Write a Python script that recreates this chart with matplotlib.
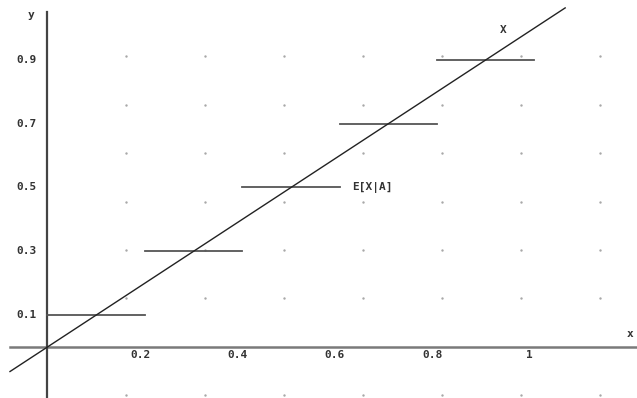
import numpy as np
import matplotlib
matplotlib.use("Agg")
import matplotlib.pyplot as plt

# data
bin_edges = [0.0, 0.2, 0.4, 0.6, 0.8, 1.0]
cond_exp = [0.1, 0.3, 0.5, 0.7, 0.9]
line_x = [-0.077, 1.063]
x_ticks = [0.2, 0.4, 0.6, 0.8, 1.0]
x_tick_labels = ["0.2", "0.4", "0.6", "0.8", "1"]
y_ticks = [0.1, 0.3, 0.5, 0.7, 0.9]
y_tick_labels = ["0.1", "0.3", "0.5", "0.7", "0.9"]

fig = plt.figure(figsize=(6.37, 3.98), dpi=100)
ax = fig.add_axes([0, 0, 1, 1])
ax.set_xlim(-0.0975, 1.2105)
ax.set_ylim(-0.16, 1.0878)
ax.axis("off")

# dot grid
gx = np.arange(1, 8) * 0.1622
gy = np.arange(-1, 7) * 0.152
gy = gy[np.abs(gy) > 1e-9]
GX, GY = np.meshgrid(gx, gy)
ax.scatter(GX.ravel(), GY.ravel(), s=3, color="#a8a8a8", linewidths=0, zorder=1)

# axes
ax.plot([-0.077, 1.3], [0, 0], color="#7a7a7a", lw=1.8, zorder=2)
ax.plot([0, 0], [-0.2, 1.05], color="#444444", lw=1.6, zorder=2)

# conditional expectation steps
for i, v in enumerate(cond_exp):
    ax.plot([bin_edges[i], bin_edges[i + 1]], [v, v], color="#555555", lw=1.3, zorder=3)

# identity line
ax.plot(line_x, line_x, color="#222222", lw=1.0, zorder=4)

font = dict(family="DejaVu Sans Mono", fontsize=8, color="#333333", fontweight="bold")
for t, lab in zip(x_ticks, x_tick_labels):
    ax.text(t - 0.01, -0.025, lab, ha="center", va="center", **font)
for t, lab in zip(y_ticks, y_tick_labels):
    ax.text(-0.023, t, lab, ha="right", va="center", **font)

ax.text(-0.034, 1.04, "y", ha="center", va="center", **font)
ax.text(1.204, 0.04, "x", ha="right", va="center", **font)
ax.text(0.935, 0.994, "X", ha="center", va="center", **font)
ax.text(0.625, 0.5, "E[X|A]", ha="left", va="center", **font)

fig.savefig("out.png", dpi=100)
